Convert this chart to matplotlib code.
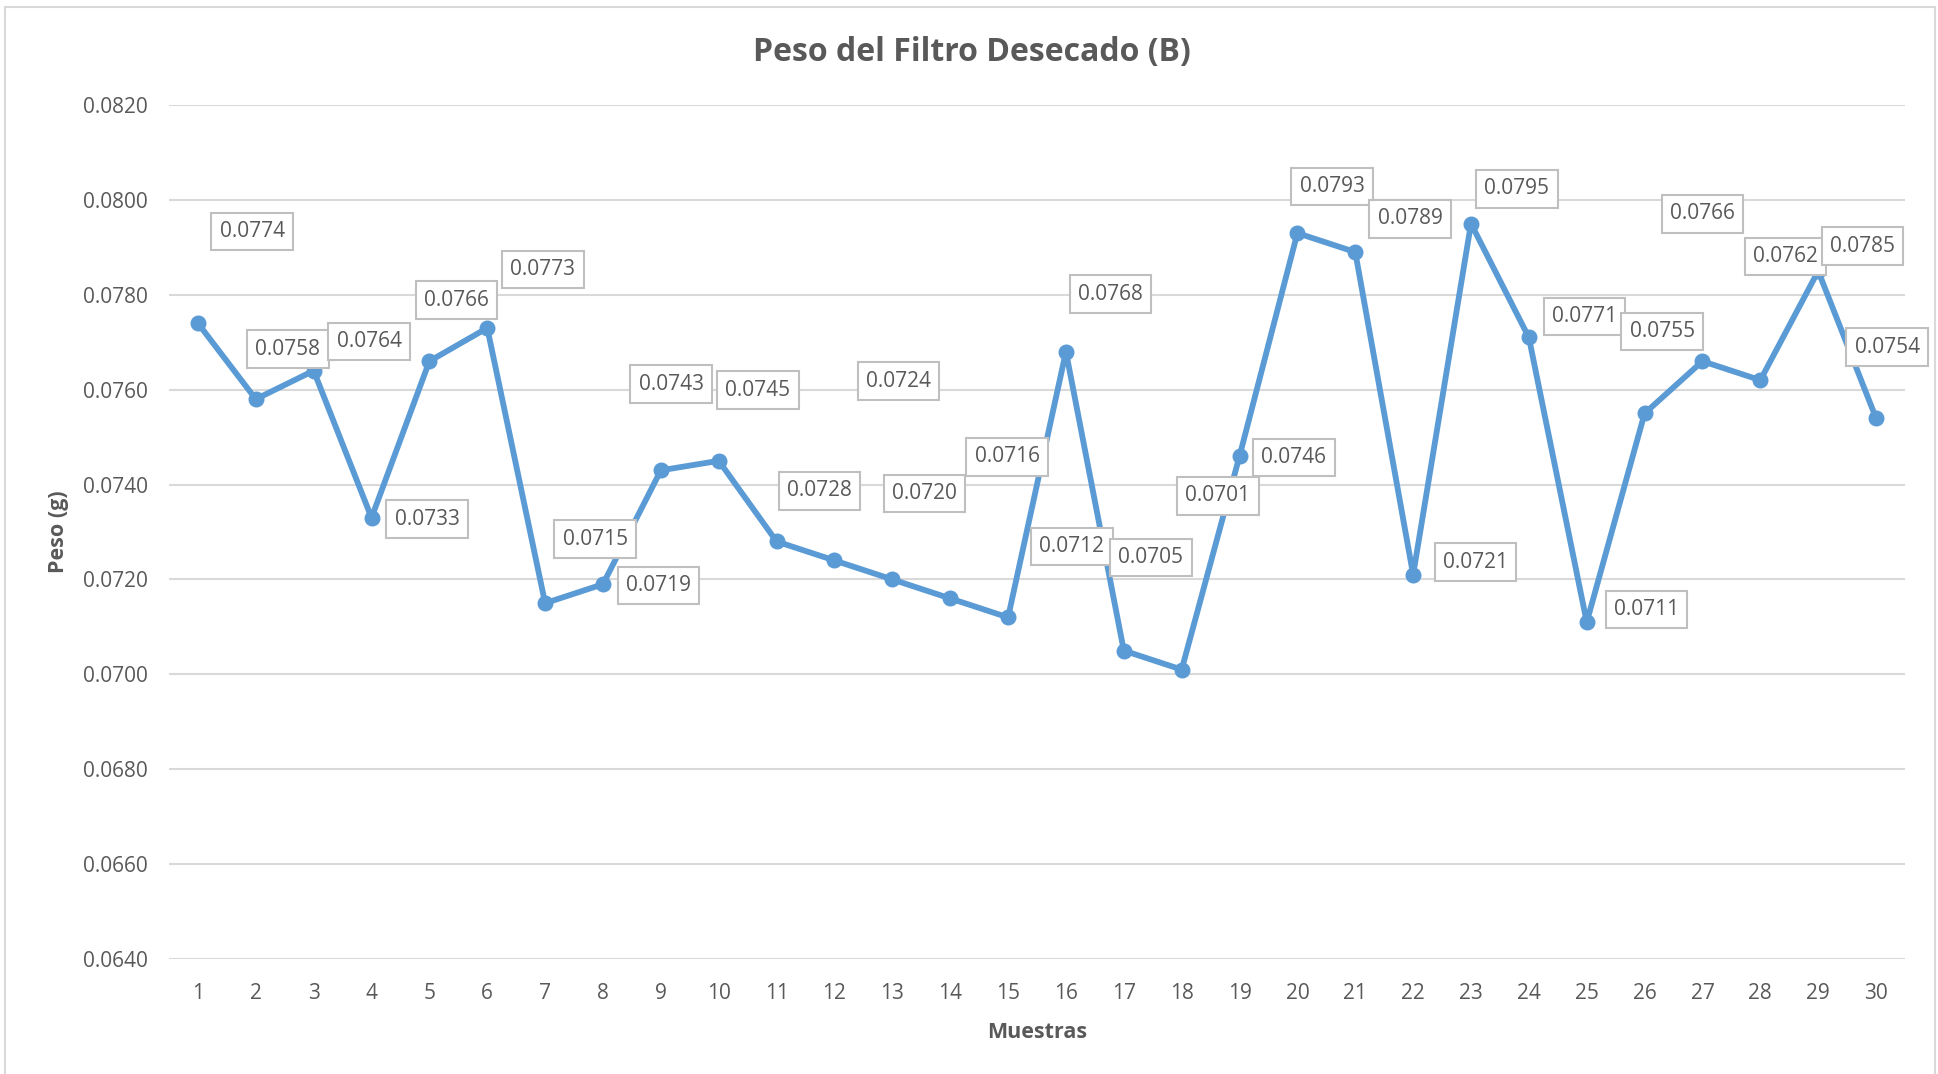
import matplotlib
matplotlib.use("Agg")
import matplotlib.pyplot as plt
from matplotlib.patches import Rectangle
import numpy as np

plt.rcParams["font.family"] = ["Open Sans", "DejaVu Sans"]

# data
muestras = list(range(1, 31))
peso = [0.0774, 0.0758, 0.0764, 0.0733, 0.0766, 0.0773, 0.0715, 0.0719, 0.0743, 0.0745,
        0.0728, 0.0724, 0.0720, 0.0716, 0.0712, 0.0768, 0.0705, 0.0701, 0.0746, 0.0793,
        0.0789, 0.0721, 0.0795, 0.0771, 0.0711, 0.0755, 0.0766, 0.0762, 0.0785, 0.0754]

# label offsets (points) - labels were dragged around by hand in the original
label_dx = [39, 23, 40, 40, 19.5, 40, 36, 40, 7.5, 28, 31, 46, 23, 41, 46,
            32, 19.5, 26, 39, 25, 39.5, 45, 33, 40, 43, 12.6, 0, 18, 32, 8]
label_dy = [66, 36, 21, -1, 44, 42, 46, -1, 62, 51, 36.5, 129, 62, 102, 51,
            41.5, 67, 125, -1, 33.5, 24, 9, 25, 15, 9, 59, 106, 89, 18, 51]

blue = "#5B9BD5"
grey_txt = "#595959"

fig = plt.figure(figsize=(19.38, 10.74), dpi=100)
ax = fig.add_axes([169 / 1938, 115 / 1074, (1905 - 169) / 1938, (959 - 105) / 1074])

ax.plot(muestras, peso, color=blue, lw=4.2, marker="o", ms=10.5, zorder=3)

for x, y, dx, dy in zip(muestras, peso, label_dx, label_dy):
    ax.annotate(f"{y:.4f}", (x, y), xytext=(dx, dy), textcoords="offset points",
                ha="center", va="center", fontsize=15, color=grey_txt, zorder=5,
                bbox=dict(boxstyle="square,pad=0.4", fc="white", ec="#BFBFBF", lw=1.5))

ax.set_xlim(0.5, 30.5)
ax.set_ylim(0.064, 0.082)
ax.set_xticks(muestras)
ax.set_yticks(np.arange(0.064, 0.0821, 0.002))
ax.yaxis.set_major_formatter(matplotlib.ticker.FormatStrFormatter("%.4f"))
ax.tick_params(length=0, labelsize=15, labelcolor=grey_txt)
ax.tick_params(axis="y", pad=15)
ax.tick_params(axis="x", pad=17)
ax.grid(axis="y", color="#D9D9D9", lw=1.5)
ax.set_axisbelow(True)
for s in ax.spines.values():
    s.set_visible(False)

ax.set_xlabel("Muestras", fontsize=15.5, fontweight="bold", color=grey_txt, labelpad=13)
ax.set_ylabel("Peso (g)", fontsize=15.5, fontweight="bold", color=grey_txt, labelpad=10)
fig.text(972 / 1938, 1 - 52 / 1074, "Peso del Filtro Desecado (B)", ha="center", va="center",
         fontsize=23, fontweight="bold", color=grey_txt)

# chart border
fig.patches.append(Rectangle((5 / 1938, -0.1), 1930 / 1938, 1.1 - 7 / 1074,
                             transform=fig.transFigure, fill=False, ec="#D9D9D9", lw=1.5))

fig.savefig("out.png", dpi=100)
